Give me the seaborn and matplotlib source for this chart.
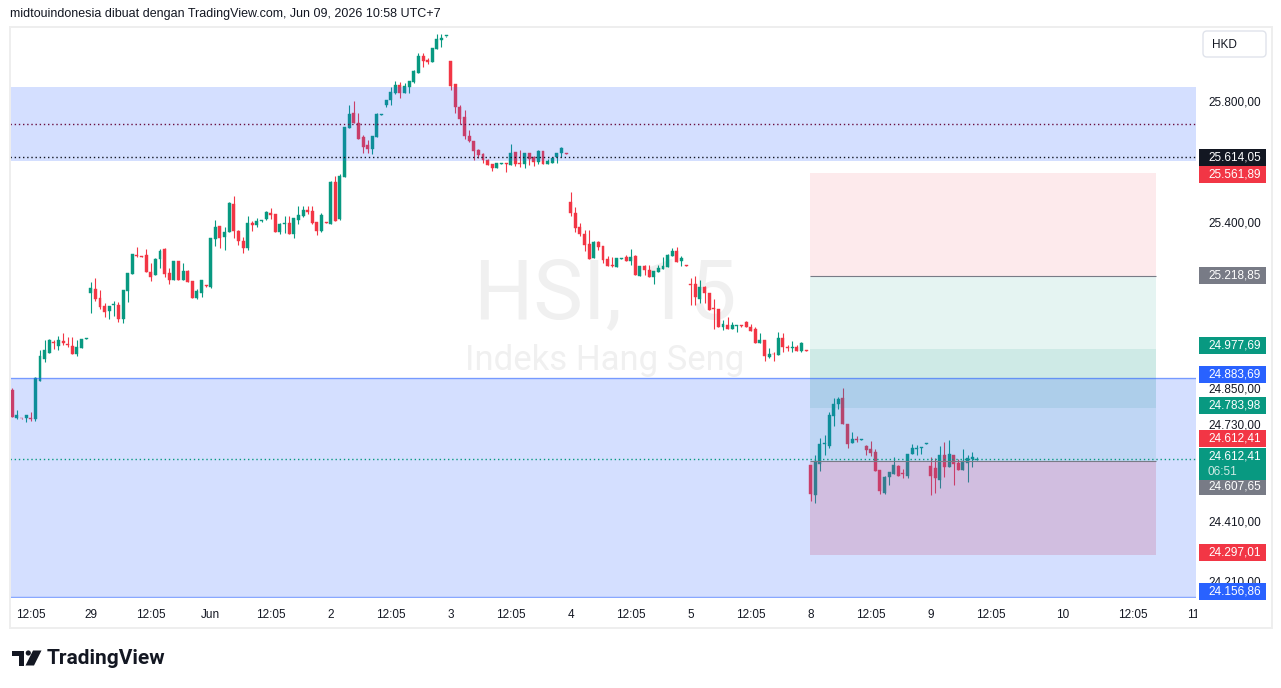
import numpy as np
import pandas as pd
import matplotlib.pyplot as plt
import matplotlib.transforms as mtransforms
from matplotlib.patches import Rectangle, Polygon, Circle, FancyBboxPatch
import seaborn as sns

# 15 minute candles of HSI (May 28 .. Jun 9)
opens = [24842, 24748, 24750, 24751, 24748, 24745, 24872, 24945, 24966, 25002,
         24988, 25005, 24995, 24988, 24962, 24983, 25011, 25165, 25177, 25148,
         25120, 25105, 25125, 25124, 25079, 25171, 25228, 25288, 25286, 25289,
         25233, 25224, 25277, 25310, 25230, 25208, 25270, 25208, 25238, 25204,
         25148, 25165, 25188, 25185, 25344, 25385, 25349, 25367, 25458, 25369,
         25336, 25314, 25396, 25389, 25401, 25410, 25428, 25425, 25366, 25393,
         25394, 25358, 25405, 25420, 25438, 25435, 25399, 25369, 25399, 25393,
         25531, 25408, 25549, 25711, 25760, 25727, 25681, 25654, 25642, 25680,
         25754, 25786, 25803, 25825, 25852, 25827, 25847, 25861, 25893, 25949,
         25935, 25930, 25973, 26002, 26014, 25932, 25856, 25779, 25745, 25685,
         25668, 25637, 25624, 25604, 25591, 25577, 25592, 25594, 25588, 25630,
         25594, 25590, 25626, 25615, 25599, 25634, 25591, 25595, 25613, 25626,
         25627, 25465, 25430, 25383, 25359, 25326, 25281, 25331, 25320, 25276,
         25254, 25251, 25277, 25282, 25271, 25286, 25221, 25253, 25240, 25218,
         25234, 25244, 25251, 25286, 25303, 25271, 25255, 25193, 25193, 25145,
         25182, 25165, 25115, 25111, 25052, 25058, 25043, 25054, 25055, 25066,
         25052, 25043, 24999, 25008, 24953, 24962, 24958, 25013, 24986, 24980,
         24986, 24973, 24973, 24594, 24495, 24597, 24665, 24657, 24756, 24796,
         24815, 24730, 24666, 24680, 24678, 24657, 24647, 24636, 24577, 24502,
         24555, 24564, 24591, 24565, 24558, 24630, 24648, 24651, 24665, 24591,
         24583, 24544, 24627, 24586, 24627, 24602, 24577, 24602, 24614, 24611]
highs = [24848, 24776, 24751, 24760, 24768, 24886, 24975, 25008, 25010, 25008,
         25021, 25030, 25017, 25017, 25008, 25011, 25015, 25201, 25213, 25174,
         25132, 25120, 25138, 25135, 25174, 25230, 25293, 25315, 25287, 25308,
         25264, 25280, 25308, 25312, 25245, 25270, 25270, 25262, 25240, 25204,
         25178, 25207, 25189, 25345, 25404, 25385, 25382, 25465, 25485, 25372,
         25350, 25419, 25401, 25411, 25404, 25434, 25445, 25425, 25394, 25419,
         25419, 25411, 25452, 25452, 25452, 25452, 25399, 25428, 25400, 25536,
         25552, 25558, 25714, 25786, 25799, 25760, 25687, 25670, 25684, 25760,
         25757, 25803, 25846, 25865, 25864, 25860, 25866, 25902, 25957, 25957,
         25943, 25975, 26021, 26021, 26016, 25932, 25856, 25786, 25770, 25704,
         25668, 25639, 25626, 25606, 25591, 25595, 25595, 25594, 25657, 25630,
         25637, 25626, 25626, 25617, 25637, 25634, 25606, 25615, 25628, 25648,
         25627, 25498, 25450, 25397, 25372, 25372, 25337, 25337, 25320, 25286,
         25284, 25281, 25280, 25289, 25309, 25289, 25253, 25255, 25256, 25238,
         25256, 25282, 25293, 25312, 25317, 25286, 25256, 25212, 25220, 25207,
         25187, 25165, 25143, 25111, 25074, 25085, 25069, 25056, 25056, 25071,
         25061, 25052, 25032, 25008, 24980, 24969, 25036, 25032, 24991, 25005,
         24991, 25002, 24974, 24594, 24627, 24682, 24693, 24768, 24815, 24818,
         24848, 24730, 24704, 24690, 24681, 24660, 24673, 24646, 24577, 24558,
         24570, 24622, 24594, 24581, 24630, 24664, 24660, 24653, 24667, 24619,
         24616, 24657, 24671, 24677, 24627, 24613, 24646, 24627, 24638, 24622]
lows = [24754, 24745, 24747, 24737, 24741, 24741, 24872, 24936, 24966, 24977,
        24975, 24991, 24986, 24962, 24955, 24983, 25010, 25098, 25138, 25112,
        25085, 25079, 25087, 25069, 25065, 25135, 25228, 25282, 25283, 25234,
        25204, 25224, 25247, 25218, 25192, 25208, 25208, 25208, 25199, 25148,
        25143, 25151, 25185, 25181, 25319, 25312, 25306, 25367, 25347, 25324,
        25295, 25306, 25370, 25383, 25400, 25405, 25410, 25366, 25359, 25363,
        25360, 25347, 25392, 25416, 25425, 25391, 25357, 25366, 25396, 25393,
        25403, 25405, 25549, 25711, 25727, 25675, 25627, 25627, 25625, 25680,
        25753, 25780, 25787, 25823, 25811, 25825, 25825, 25858, 25893, 25913,
        25921, 25930, 25971, 25980, 26013, 25836, 25759, 25722, 25674, 25665,
        25604, 25612, 25595, 25588, 25569, 25577, 25591, 25566, 25588, 25584,
        25582, 25579, 25588, 25584, 25591, 25591, 25591, 25593, 25593, 25615,
        25624, 25419, 25367, 25352, 25303, 25277, 25281, 25306, 25264, 25254,
        25251, 25251, 25276, 25271, 25255, 25223, 25221, 25223, 25218, 25193,
        25234, 25244, 25251, 25286, 25267, 25254, 25252, 25124, 25124, 25129,
        25132, 25107, 25043, 25052, 25041, 25043, 25043, 25036, 25052, 25050,
        25039, 24999, 24999, 24939, 24947, 24939, 24958, 24969, 24971, 24969,
        24971, 24969, 24970, 24476, 24469, 24575, 24627, 24649, 24723, 24778,
        24730, 24649, 24666, 24671, 24677, 24627, 24625, 24574, 24498, 24498,
        24528, 24564, 24558, 24552, 24552, 24630, 24627, 24630, 24664, 24495,
        24502, 24517, 24553, 24586, 24528, 24577, 24577, 24539, 24586, 24611]
closes = [24754, 24760, 24748, 24760, 24745, 24881, 24955, 24975, 25008, 24999,
          25008, 24997, 24990, 24962, 24986, 25011, 25014, 25181, 25145, 25118,
          25102, 25120, 25128, 25079, 25174, 25230, 25293, 25286, 25284, 25234,
          25218, 25277, 25304, 25228, 25208, 25270, 25208, 25238, 25199, 25148,
          25170, 25207, 25186, 25345, 25382, 25347, 25366, 25463, 25370, 25337,
          25314, 25395, 25388, 25402, 25403, 25432, 25423, 25366, 25392, 25395,
          25360, 25411, 25421, 25438, 25432, 25394, 25369, 25422, 25397, 25532,
          25403, 25551, 25714, 25758, 25727, 25675, 25648, 25642, 25684, 25758,
          25756, 25803, 25830, 25852, 25825, 25849, 25866, 25899, 25949, 25933,
          25930, 25975, 26005, 26007, 26016, 25850, 25781, 25740, 25685, 25668,
          25634, 25621, 25604, 25588, 25579, 25595, 25594, 25592, 25626, 25591,
          25592, 25626, 25606, 25599, 25634, 25591, 25601, 25612, 25628, 25645,
          25625, 25427, 25380, 25358, 25323, 25277, 25334, 25317, 25273, 25254,
          25252, 25281, 25279, 25271, 25284, 25223, 25253, 25240, 25218, 25238,
          25247, 25253, 25289, 25304, 25267, 25281, 25253, 25191, 25149, 25182,
          25165, 25107, 25109, 25052, 25061, 25043, 25058, 25056, 25053, 25052,
          25039, 24999, 25008, 24955, 24962, 24960, 25016, 24986, 24980, 24986,
          24971, 24999, 24971, 24498, 24607, 24664, 24667, 24760, 24796, 24813,
          24730, 24664, 24679, 24678, 24680, 24644, 24633, 24574, 24508, 24555,
          24570, 24594, 24558, 24563, 24630, 24649, 24650, 24653, 24667, 24558,
          24550, 24627, 24586, 24630, 24597, 24577, 24608, 24616, 24619, 24612.41]

# time axis
noon_ticks = [4, 30, 56, 82, 108, 134, 160, 186, 212, 242.8]
day_ticks = [17, 43, 69, 95, 121, 147, 173, 199, 227.7, 255.8]
day_labels = ['29', 'Jun', '2', '3', '4', '5', '8', '9', '10', '11']

# price axis
price_ticks = [25800, 25400, 25000, 24850, 24730, 24410, 24310, 24210]

# drawings
upper_zone = [25600.8, 25846]
lower_zone = [24156.86, 24883.69]
maroon_level = 25723
black_level = 25614.05
last_price = 24612.41
short_entry, short_stop, short_target = 25218.85, 25561.89, 24783.98
long_entry, long_stop, long_target = 24607.65, 24297.01, 24977.69
tool_span = [172.8, 247.8]

GREEN, RED, BLUE, GRAY, INK = '#089981', '#f23645', '#2962ff', '#787b86', '#131722'


def fmt(v):
    return f'{v:,.2f}'.replace(',', '#').replace('.', ',').replace('#', '.')


df = pd.DataFrame({'open': opens, 'high': highs, 'low': lows, 'close': closes})
df['x'] = np.arange(len(df))
df['up'] = df['close'] >= df['open']
df['color'] = np.where(df['up'], GREEN, RED)
df['body'] = (df['close'] - df['open']).abs().clip(lower=3)
df['bottom'] = df[['open', 'close']].min(axis=1)

sns.set_theme(style='white')
plt.rcParams['font.family'] = ['Liberation Sans', 'DejaVu Sans']

fig = plt.figure(figsize=(12.81, 6.88), dpi=100)
fig.patch.set_facecolor('white')
ax = fig.add_axes([10 / 1281, 90 / 688, 1186 / 1281, 571 / 688])
ax.set_xlim(-0.5, 256.5)
ax.set_ylim(24153.4, 26044.6)

# watermark
ax.text(0.5017, 0.4904, 'HSI, 15', transform=ax.transAxes, ha='center', va='baseline',
        fontsize=60, color='#f0f0f0', family=['Roboto', 'DejaVu Sans'], zorder=0.5)
ax.text(0.5017, 0.3993, 'Indeks Hang Seng', transform=ax.transAxes, ha='center', va='baseline',
        fontsize=25, color='#f0f0f0', family=['Roboto', 'DejaVu Sans'], zorder=0.5)

# candles
ax.vlines(df['x'], df['low'], df['high'], colors=df['color'], lw=0.8, zorder=2)
ax.bar(df['x'], df['body'], bottom=df['bottom'], width=0.64, color=df['color'],
       edgecolor=df['color'], lw=0.3, zorder=2)

# position tools
ax.fill_between(tool_span, short_entry, short_stop, color=RED, alpha=0.1, lw=0, zorder=3)
ax.fill_between(tool_span, short_target, short_entry, color=GREEN, alpha=0.1, lw=0, zorder=3)
ax.fill_between(tool_span, long_entry, long_target, color=GREEN, alpha=0.1, lw=0, zorder=3)
ax.fill_between(tool_span, long_stop, long_entry, color=RED, alpha=0.2, lw=0, zorder=3)
ax.hlines([short_entry, long_entry], *tool_span, color=GRAY, lw=0.8, zorder=5)

# zones
ax.axhspan(*upper_zone, color=BLUE, alpha=0.2, lw=0, zorder=4)
ax.axhspan(*lower_zone, color=BLUE, alpha=0.2, lw=0, zorder=4)
ax.axhline(lower_zone[1], color=BLUE, alpha=0.55, lw=1, zorder=4)
ax.axhline(lower_zone[0], color=BLUE, alpha=0.55, lw=1, zorder=4)

# horizontal levels
ax.axhline(maroon_level, color='#6a0d3f', lw=1, ls=(0, (1, 2)), zorder=5)
ax.axhline(black_level, color=INK, lw=1, ls=(0, (1, 2)), zorder=5)
ax.axhline(last_price, color=GREEN, lw=1, ls=(0, (1, 2)), zorder=5)

# axes styling
for s in ax.spines.values():
    s.set_visible(False)
ax.grid(False)
ax.set_xticks(noon_ticks + day_ticks)
ax.set_xticklabels(['12:05'] * len(noon_ticks) + day_labels)
ax.set_yticks(price_ticks)
ax.set_yticklabels([fmt(v) for v in price_ticks])
ax.yaxis.tick_right()
ax.tick_params(axis='y', length=0, pad=9, labelsize=8.5, labelcolor=INK)
ax.tick_params(axis='x', length=0, pad=8, labelsize=8.5, labelcolor=INK)

# price labels on the scale
trans = mtransforms.blended_transform_factory(ax.transAxes, ax.transData)
lab_h = 56.3
labels = [
    (fmt(black_level), 25614.0, INK),
    (fmt(short_stop), 25557.7, RED),
    (fmt(short_entry), 25223.2, GRAY),
    (fmt(long_target), 24988.2, GREEN),
    (fmt(lower_zone[1]), 24892.0, BLUE),
    (fmt(short_target), 24792.6, GREEN),
    (fmt(last_price), 24683.3, RED),
    (fmt(long_entry), 24521.1, GRAY),
    (fmt(long_stop), 24302.5, RED),
    (fmt(lower_zone[0]), 24173.3, BLUE),
]
for txt, pos, col in labels:
    ax.add_patch(Rectangle((1.0025, pos - lab_h / 2), 0.0565, lab_h, transform=trans,
                           color=col, clip_on=False, zorder=6, lw=0))
    ax.text(1.0101, pos, txt, transform=trans, ha='left', va='center', fontsize=8.5,
            color='white', zorder=7, clip_on=False)
# last price with countdown
ax.add_patch(Rectangle((1.0025, 24544.2), 0.0565, 106.0, transform=trans, color=GREEN,
                       clip_on=False, zorder=6, lw=0))
ax.text(1.0101, 24623.7, fmt(last_price), transform=trans, ha='left', va='center',
        fontsize=8.5, color='white', zorder=7)
ax.text(1.0101, 24570.7, '06:51', transform=trans, ha='left', va='center',
        fontsize=8.5, color='#cdebe5', zorder=7)

# page furniture in pixel coordinates
ov = fig.add_axes([0, 0, 1, 1])
ov.set_xlim(0, 1281)
ov.set_ylim(688, 0)
ov.axis('off')
ov.add_patch(Rectangle((1197, 601), 73, 25, color='white', lw=0))
ov.add_patch(Rectangle((9.5, 26.5), 1262, 601, fill=False, edgecolor='#eeeeee', lw=1.4))
ov.add_patch(FancyBboxPatch((1203, 31), 63, 26, boxstyle='round,pad=0,rounding_size=4',
                            fc='white', ec='#e0e3eb', lw=1))
ov.text(1212, 44.5, 'HKD', va='center', ha='left', fontsize=8.5, color=INK)
ov.text(10, 14, 'midtouindonesia dibuat dengan TradingView.com, Jun 09, 2026 10:58 UTC+7',
        va='center', ha='left', fontsize=9, color=INK)

# TradingView logo
ov.add_patch(Polygon([(12, 650.5), (24, 650.5), (24, 665.5), (18.5, 665.5), (18.5, 655.5),
                      (12, 655.5)], closed=True, color=INK, lw=0))
ov.add_patch(Circle((28.3, 653), 2.6, color=INK, lw=0))
ov.add_patch(Polygon([(33, 650.5), (41.5, 650.5), (34, 665.5), (25.5, 665.5)], closed=True,
                     color=INK, lw=0))
ov.text(47, 658, 'TradingView', va='center', ha='left', fontsize=15, fontweight='bold',
        color=INK, family=['Roboto', 'DejaVu Sans'])

fig.savefig('out.png', dpi=100, facecolor='white')
